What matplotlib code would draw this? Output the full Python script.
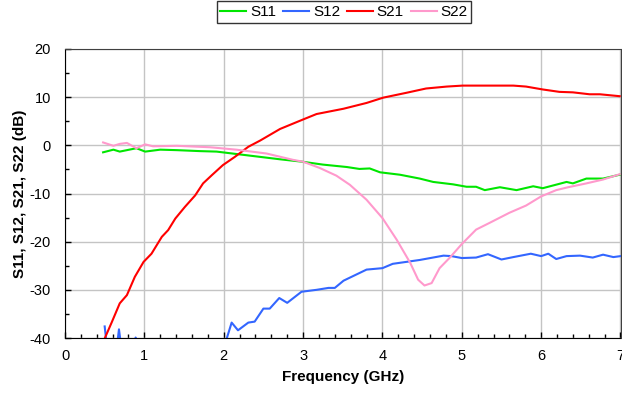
import matplotlib
matplotlib.use("Agg")
import matplotlib.pyplot as plt
from matplotlib.ticker import MultipleLocator

plt.rcParams['font.family'] = ['Liberation Sans', 'DejaVu Sans']
plt.rcParams['axes.unicode_minus'] = False

# S11 (green)
f11 = [0.48, 0.61, 0.69, 0.90, 1.01, 1.20, 1.41, 1.70, 1.91, 2.16, 2.46, 2.71, 2.99, 3.25,
       3.55, 3.71, 3.84, 3.97, 4.22, 4.47, 4.64, 4.89, 5.06, 5.18, 5.29, 5.48, 5.69, 5.90,
       6.02, 6.32, 6.40, 6.57, 6.78, 6.99]
s11 = [-1.45, -0.9, -1.3, -0.6, -1.3, -0.9, -1.0, -1.2, -1.3, -1.8, -2.4, -2.9, -3.4, -4.0,
       -4.5, -4.9, -4.8, -5.6, -6.1, -6.9, -7.6, -8.1, -8.6, -8.6, -9.3, -8.7, -9.3, -8.5,
       -8.9, -7.6, -7.9, -6.9, -6.9, -6.1]

# S12 (blue), goes below -40 at low freq and gets clipped
f12 = [0.5, 0.53, 0.6, 0.66, 0.68, 0.71, 0.8, 0.87, 0.89, 0.92, 1.2, 1.6, 2.0, 2.04, 2.10,
       2.18, 2.31, 2.39, 2.50, 2.58, 2.70, 2.80, 2.98, 3.17, 3.32, 3.40, 3.51, 3.80, 4.0,
       4.13, 4.47, 4.77, 4.87, 5.0, 5.18, 5.33, 5.50, 5.65, 5.87, 6.0, 6.09, 6.19, 6.32,
       6.49, 6.65, 6.78, 6.91, 7.0]
s12 = [-37.6, -42, -46, -41, -38.2, -42, -46, -41, -39.9, -41, -50, -52, -45, -40, -36.8,
       -38.4, -36.8, -36.6, -33.9, -33.9, -31.7, -32.7, -30.4, -30.0, -29.6, -29.6, -28.1,
       -25.8, -25.5, -24.6, -23.8, -22.9, -23.0, -23.4, -23.3, -22.6, -23.7, -23.2, -22.5,
       -23.0, -22.5, -23.6, -23.0, -22.9, -23.3, -22.7, -23.2, -23.0]

# S21 (red)
f21 = [0.5, 0.59, 0.69, 0.78, 0.88, 0.99, 1.09, 1.22, 1.30, 1.39, 1.51, 1.64, 1.74, 1.85,
       1.99, 2.14, 2.31, 2.46, 2.71, 2.99, 3.17, 3.51, 3.80, 4.01, 4.30, 4.55, 4.81, 5.01,
       5.65, 5.81, 6.02, 6.23, 6.40, 6.61, 6.74, 6.99]
s21 = [-40.1, -36.7, -32.8, -31.1, -27.3, -24.2, -22.5, -19.0, -17.6, -15.2, -12.8, -10.4,
       -7.9, -6.2, -4.1, -2.4, -0.3, 1.0, 3.4, 5.3, 6.5, 7.6, 8.8, 9.9, 10.9, 11.8, 12.2,
       12.4, 12.4, 12.2, 11.6, 11.1, 11.0, 10.6, 10.6, 10.2]

# S22 (pink)
f22 = [0.48, 0.61, 0.69, 0.78, 0.90, 1.01, 1.11, 1.41, 1.83, 2.16, 2.54, 2.87, 3.0, 3.21,
       3.42, 3.59, 3.80, 4.0, 4.18, 4.35, 4.45, 4.53, 4.62, 4.72, 4.85, 5.0, 5.18, 5.35,
       5.60, 5.81, 6.0, 6.19, 6.34, 6.57, 6.78, 6.99]
s22 = [0.6, -0.1, 0.3, 0.5, -0.6, 0.2, -0.2, -0.1, -0.4, -0.9, -1.7, -3.0, -3.4, -4.7,
       -6.3, -8.2, -11.3, -15.1, -19.6, -24.4, -27.9, -29.1, -28.6, -25.5, -23.3, -20.5,
       -17.5, -16.1, -14.0, -12.5, -10.6, -9.3, -8.7, -7.9, -7.1, -6.0]

fig = plt.figure(figsize=(6.22, 4.0), dpi=100)
ax = fig.add_axes([65 / 622, 62 / 400, 555.5 / 622, 289 / 400])

ax.plot(f11, s11, color='#00e600', lw=1.5, label='S11')
ax.plot(f12, s12, color='#3366ff', lw=1.5, label='S12')
ax.plot(f21, s21, color='#ff0000', lw=1.5, label='S21')
ax.plot(f22, s22, color='#ff99cc', lw=1.5, label='S22')

ax.set_xlim(0, 7)
ax.set_ylim(-40, 20)
ax.xaxis.set_major_locator(MultipleLocator(1))
ax.xaxis.set_minor_locator(MultipleLocator(0.2))
ax.yaxis.set_major_locator(MultipleLocator(10))
ax.yaxis.set_minor_locator(MultipleLocator(5))
ax.tick_params(which='both', direction='in', labelsize=10.5, length=4, width=1, color='black')
ax.tick_params(which='minor', length=3)
ax.tick_params(axis='x', pad=8)
ax.tick_params(axis='y', pad=10)
ax.grid(True, which='major', color='#c4c4c4', lw=1)
ax.set_axisbelow(True)
for side in ['top', 'right']:
    ax.spines[side].set_color('#404040')
ax.spines['left'].set_color('black')
ax.spines['bottom'].set_color('black')

ax.set_xlabel('Frequency (GHz)', fontsize=11, fontweight='bold', labelpad=5)
ax.set_ylabel('S11, S12, S21, S22 (dB)', fontsize=11, fontweight='bold', labelpad=2)

leg = fig.legend(loc='upper center', bbox_to_anchor=(344 / 622, 0.997), ncol=4,
                 fontsize=11, frameon=True, fancybox=False, handlelength=1.7,
                 columnspacing=0.45, handletextpad=0.25, borderpad=0.25, borderaxespad=0)
leg.get_frame().set_edgecolor('black')
leg.get_frame().set_linewidth(1)

fig.savefig('out.png', dpi=100)
